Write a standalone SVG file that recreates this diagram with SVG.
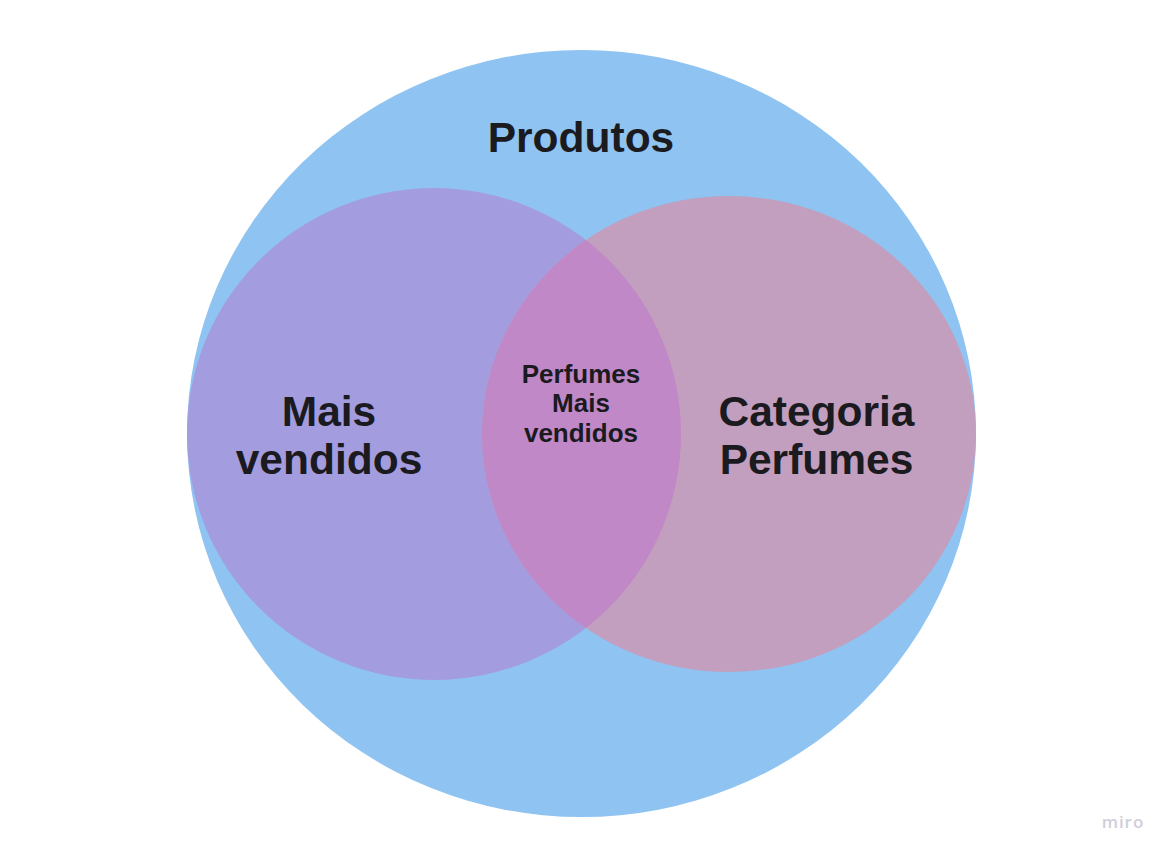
<svg xmlns="http://www.w3.org/2000/svg" width="1169" height="855" viewBox="0 0 1169 855">
<style>
.t{font-family:"Liberation Sans",Arial,sans-serif;font-weight:bold;fill:#1a1a1f;text-anchor:middle}
.big{font-size:42.5px}
.small{font-size:26px}
</style>
<defs>
<clipPath id="clipL"><ellipse cx="434" cy="434" rx="247" ry="246"/></clipPath>
</defs>
<rect width="1169" height="855" fill="#ffffff"/>
<g id="produtos">
<ellipse cx="581.5" cy="433.5" rx="394.5" ry="383.5" fill="#8fc3f1"/>
<text class="t big" x="581" y="152">Produtos</text>
</g>
<g id="mais-vendidos">
<ellipse cx="434" cy="434" rx="247" ry="246" fill="#a39de0"/>
<text class="t big" x="329" y="426">Mais</text>
<text class="t big" x="329" y="474">vendidos</text>
</g>
<g id="categoria-perfumes">
<ellipse cx="729" cy="434" rx="247" ry="238" fill="#c29fbf"/>
<ellipse cx="729" cy="434" rx="247" ry="238" fill="#c088c6" clip-path="url(#clipL)"/>
<text class="t big" x="816.5" y="426">Categoria</text>
<text class="t big" x="816.5" y="474">Perfumes</text>
</g>
<g id="perfumes-mais-vendidos">
<text class="t small" x="581" y="383">Perfumes</text>
<text class="t small" x="581" y="412">Mais</text>
<text class="t small" x="581" y="442">vendidos</text>
</g>
<g id="connectors"></g>
<text x="1123" y="828" font-family="'Open Sans','Liberation Sans',sans-serif" font-size="17" font-weight="600" fill="#cfcfd8" text-anchor="middle" letter-spacing="1">miro</text>
</svg>
